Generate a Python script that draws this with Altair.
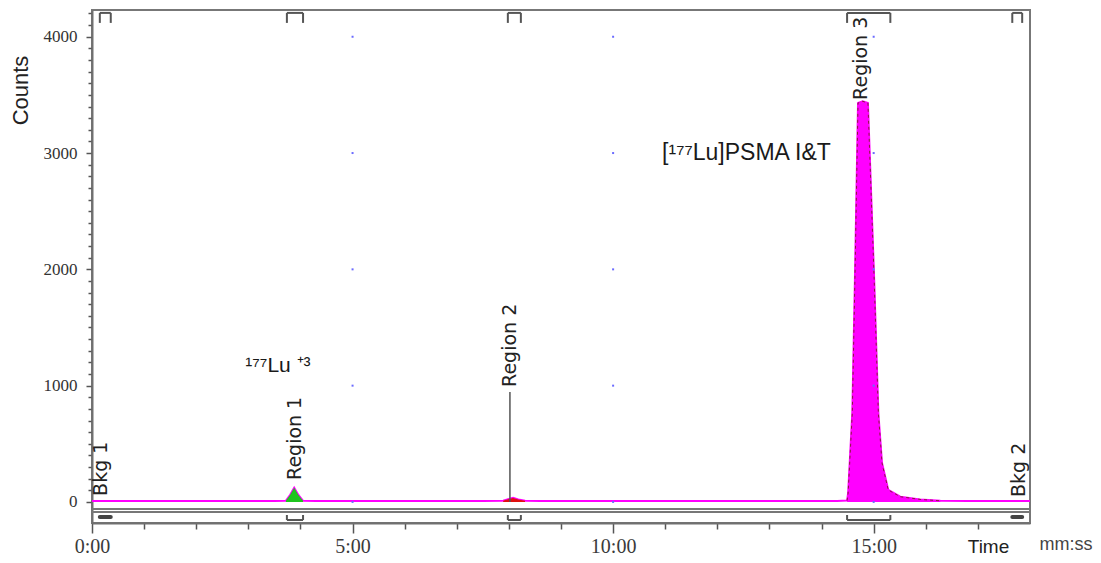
import altair as alt
import pandas as pd

# ---------------- data ----------------
time_min = [0.0, 0.5, 1.0, 1.5, 2.0, 2.5, 3.0, 3.5, 3.72, 3.80, 3.88, 3.96, 4.05, 4.3,
            5.0, 5.5, 6.0, 6.5, 7.0, 7.5, 7.89, 8.00, 8.08, 8.18, 8.31, 8.6,
            9.0, 9.5, 10.0, 10.5, 11.0, 11.5, 12.0, 12.5, 13.0, 13.5, 14.0, 14.3,
            14.49, 14.51, 14.59, 14.64, 14.70, 14.79, 14.89, 15.01, 15.09, 15.16,
            15.28, 15.51, 15.89, 16.28, 16.8, 17.4, 18.0]
counts = [8, 9, 8, 9, 8, 9, 8, 9, 10, 60, 122, 60, 10, 9,
          8, 9, 8, 9, 8, 9, 10, 25, 35, 22, 10, 9,
          8, 9, 8, 9, 8, 9, 8, 9, 8, 9, 8, 9,
          12, 77, 765, 1909, 3430, 3445, 3430, 1909, 765, 335,
          103, 45, 22, 10, 9, 8, 8]

# filled peak regions (start, end, colour)
fill_names = ["Region 1", "Region 2", "Region 3"]
fill_start = [3.72, 7.89, 14.49]
fill_end = [4.05, 8.31, 16.28]
fill_colors = ["#1ec41e", "#e01010", "#ff00ff"]

# region markers (brackets)
mark_names = ["Bkg 1", "Region 1", "Region 2", "Region 3", "Bkg 2"]
mark_start = [0.15, 3.74, 7.98, 14.49, 17.66]
mark_end = [0.36, 4.05, 8.23, 15.32, 17.85]
mark_is_bkg = [True, False, False, False, True]

# region label anchors (time, counts at start of rotated text)
label_t = [0.18, 3.89, 8.03, 14.76, 17.79]
label_c = [52, 189, 989, 3457, 43]

# Region 2 marker line
r2_line_t = [8.02]
r2_line_top = [946]

# faint grid dots
dot_t = [5, 10, 15]
dot_c = [0, 1000, 2000, 3000, 4000]

# annotations
ann_text = ["\u00b9\u2077\u2077Lu \u207a\u00b3", "[\u00b9\u2077\u2077Lu]PSMA I&T"]
ann_t = [2.94, 10.94]
ann_c = [1118, 2941]
ann_size = [21, 23]

# ---------------- build tables ----------------
df = pd.DataFrame({"t": time_min, "c": counts})
fills = []
for n, s, e in zip(fill_names, fill_start, fill_end):
    sub = df[(df.t >= s) & (df.t <= e)].copy()
    sub["region"] = n
    fills.append(sub)
df_fill = pd.concat(fills)
df_r3 = df_fill[df_fill.region == "Region 3"]

top_y, top_leg = 4205, 4119
bot_y, bot_leg, bkg_y = -155, -112, -129
df_marks = pd.DataFrame({"name": mark_names, "s": mark_start, "e": mark_end, "bkg": mark_is_bkg})

top_h = pd.DataFrame({"s": mark_start, "e": mark_end, "y": top_y})
legs_top = pd.DataFrame({"t": mark_start + mark_end, "y": top_y, "y2": top_leg})
reg = df_marks[~df_marks.bkg]
bot_h = pd.DataFrame({"s": reg.s, "e": reg.e, "y": bot_y})
legs_bot = pd.DataFrame({"t": list(reg.s) + list(reg.e), "y": bot_y, "y2": bot_leg})
bkg = df_marks[df_marks.bkg]
bkg_bar = pd.DataFrame({"s": bkg.s, "e": bkg.e, "y": bkg_y})

df_labels = pd.DataFrame({"t": label_t, "c": label_c, "label": mark_names})
df_r2 = pd.DataFrame({"t": r2_line_t, "c": [0], "c2": r2_line_top})
df_dots = pd.DataFrame([(a, b) for a in dot_t for b in dot_c], columns=["t", "c"])
df_ann = pd.DataFrame({"text": ann_text, "t": ann_t, "c": ann_c, "size": ann_size})
df_strip = pd.DataFrame({"y": [-60, -86]})
df_unit = pd.DataFrame({"t": [18.69], "c": [-410], "text": ["mm:ss"]})

# ---------------- scales / axes ----------------
XS = alt.Scale(domain=[0, 18], nice=False, zero=False)
YS = alt.Scale(domain=[-181, 4230], nice=False, zero=False)

x_axis = alt.Axis(
    values=list(range(0, 18)),
    labelExpr="datum.value % 5 === 0 ? datum.value + ':00' : ''",
    tickSize={"condition": {"test": "datum.value % 5 === 0", "value": 10}, "value": 6},
    labelFont="Liberation Serif", labelFontSize=20, labelColor="#3a3a3a",
    labelPadding=3, labelFlush=False, labelOverlap=False,
    domainColor="#707070", domainWidth=2, tickColor="#555555", tickWidth=1.5,
    grid=False, title="Time", titleFont="Liberation Sans", titleFontSize=19,
    titleFontWeight="normal", titleColor="#222222", titleX=896, titleY=29,
    titleBaseline="alphabetic", titleAlign="center",
)
y_axis = alt.Axis(
    values=list(range(0, 4201, 100)), format="d",
    labelExpr="datum.value % 1000 === 0 ? datum.label : ''",
    tickSize={"condition": {"test": "datum.value % 1000 === 0", "value": 6}, "value": 4},
    labelFont="Liberation Serif", labelFontSize=17, labelColor="#333333",
    labelPadding=9, labelFlush=False, labelOverlap=False,
    domainColor="#707070", domainWidth=2, tickColor="#555555", tickWidth=1.5,
    grid=False, title="Counts", titleFont="Liberation Sans", titleFontSize=22,
    titleFontWeight="normal", titleColor="#222222", titleAngle=270,
    titleX=-65, titleY=80, titleBaseline="alphabetic", titleAlign="center",
)


def X(field):
    return alt.X(field, scale=XS, axis=x_axis)


def Y(field):
    return alt.Y(field, scale=YS, axis=y_axis)


line = alt.Chart(df).mark_line(color="#ff00ff", strokeWidth=2).encode(
    x=X("t:Q"), y=Y("c:Q"),
)

areas = alt.Chart(df_fill).mark_area(opacity=1).encode(
    x=X("t:Q"), y=Y("c:Q"),
    y2=alt.Y2(datum=0),
    color=alt.Color("region:N", scale=alt.Scale(domain=fill_names, range=fill_colors), legend=None),
    detail="region:N",
)

outline = alt.Chart(df_r3).mark_line(color="#8b1a3a", strokeWidth=1, strokeDash=[3, 3]).encode(
    x=X("t:Q"), y=Y("c:Q"),
)

dots = alt.Chart(df_dots).mark_square(size=4, color="#6b6bff", opacity=1).encode(
    x=X("t:Q"), y=Y("c:Q"),
)

r2 = alt.Chart(df_r2).mark_rule(color="#555555", strokeWidth=1.5).encode(
    x=X("t:Q"), y=Y("c:Q"), y2="c2:Q",
)

strip = alt.Chart(df_strip).mark_rule(color="#777777", strokeWidth=2).encode(
    y=Y("y:Q"),
)

br_col = "#555555"
top_hr = alt.Chart(top_h).mark_rule(color=br_col, strokeWidth=2).encode(
    x=X("s:Q"), x2="e:Q", y=Y("y:Q"),
)
top_lg = alt.Chart(legs_top).mark_rule(color=br_col, strokeWidth=2).encode(
    x=X("t:Q"), y=Y("y:Q"), y2="y2:Q",
)
bot_hr = alt.Chart(bot_h).mark_rule(color=br_col, strokeWidth=2).encode(
    x=X("s:Q"), x2="e:Q", y=Y("y:Q"),
)
bot_lg = alt.Chart(legs_bot).mark_rule(color=br_col, strokeWidth=2).encode(
    x=X("t:Q"), y=Y("y:Q"), y2="y2:Q",
)
bkg_b = alt.Chart(bkg_bar).mark_rule(color="#444444", strokeWidth=4, strokeCap="round").encode(
    x=X("s:Q"), x2="e:Q", y=Y("y:Q"),
)

labels = alt.Chart(df_labels).mark_text(
    angle=270, align="left", baseline="middle", font="DejaVu Sans", fontSize=19, color="#222222"
).encode(
    x=X("t:Q"), y=Y("c:Q"), text="label:N",
)

ann = alt.Chart(df_ann).mark_text(
    align="left", baseline="alphabetic", font="Liberation Sans", color="#1a1a1a"
).encode(
    x=X("t:Q"), y=Y("c:Q"), text="text:N",
    size=alt.Size("size:Q", scale=None, legend=None),
)

unit = alt.Chart(df_unit).mark_text(
    align="center", baseline="alphabetic", font="Liberation Sans", fontSize=18, color="#444444"
).encode(
    x=X("t:Q"), y=Y("c:Q"), text="text:N",
)

chart = alt.layer(
    line, areas, outline, strip, top_hr, top_lg, bot_hr, bot_lg, bkg_b,
    r2, dots, labels, ann, unit
).properties(
    width=938, height=513,
    padding={"left": 84, "top": 2, "right": 63, "bottom": 32},
    autosize=alt.AutoSizeParams(type="none"),
    background="white",
).configure_view(stroke="#777777", strokeWidth=2)

chart.save("out.html", embed_options={"renderer": "svg", "actions": False})
